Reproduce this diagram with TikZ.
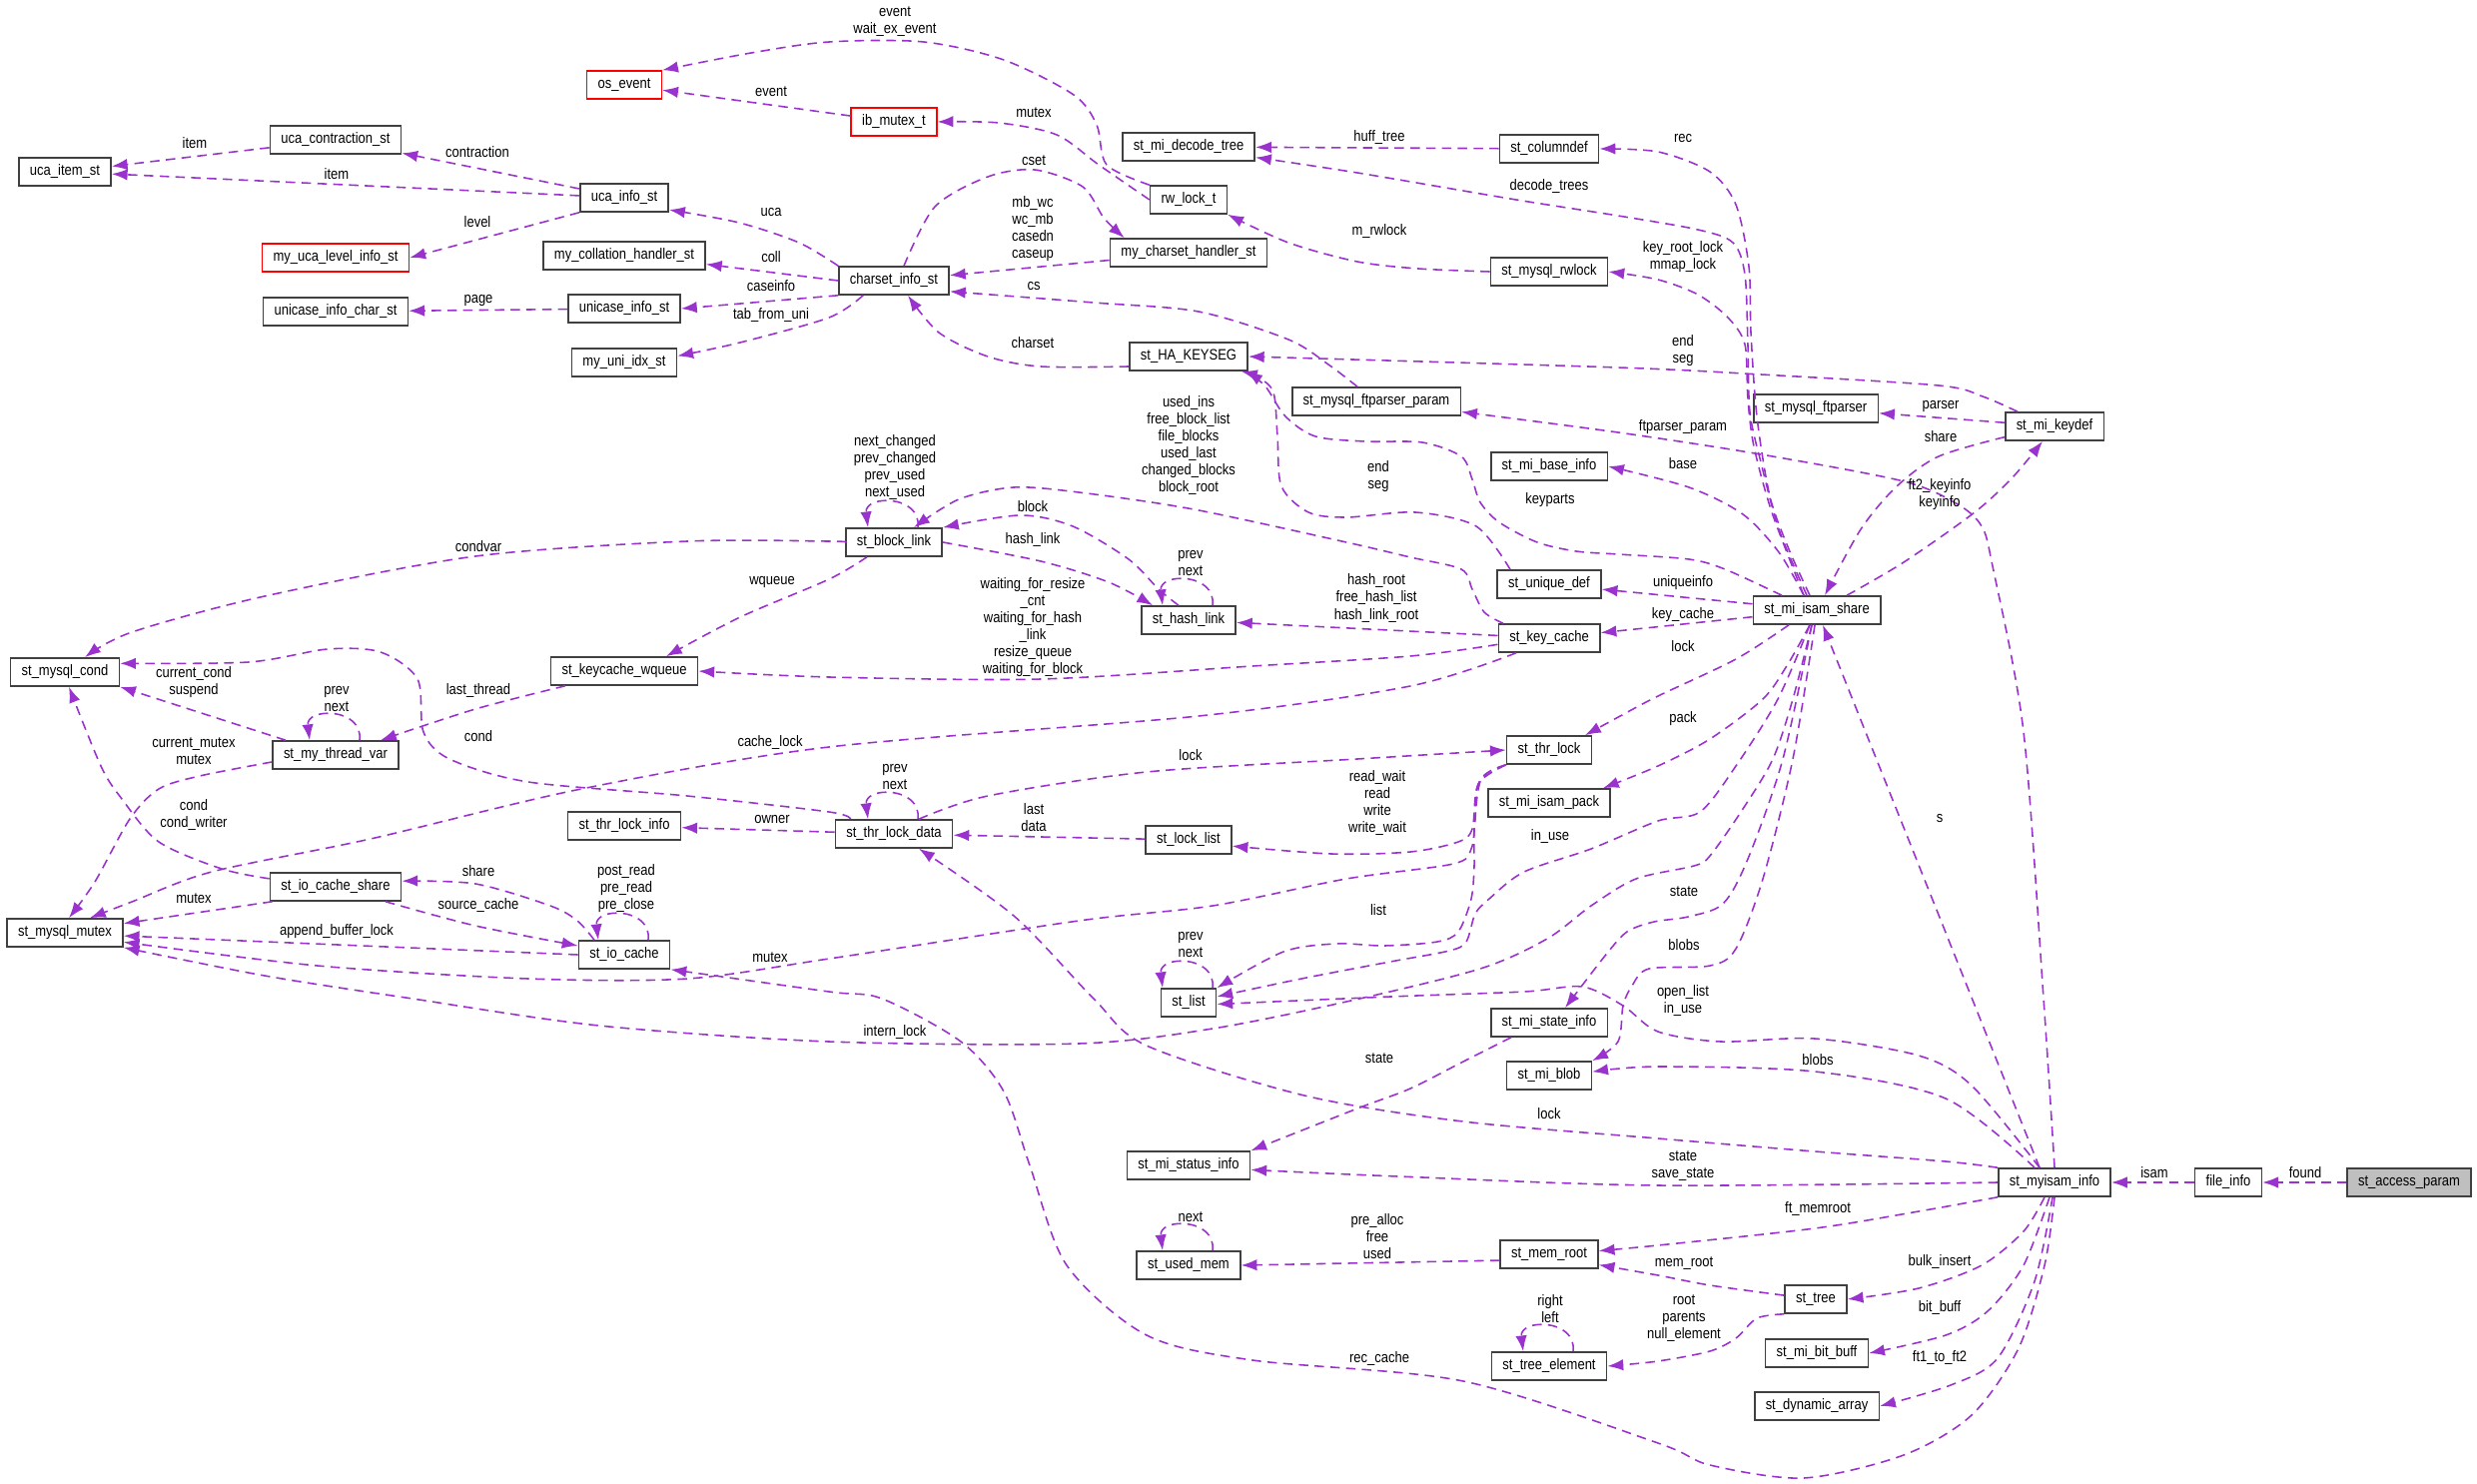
\documentclass[tikz,border=0pt]{standalone}
\usepackage{fontspec}
\setmainfont{Liberation Sans}[FakeStretch=0.86]
\usepackage{tikz}
\usetikzlibrary{arrows.meta}
\definecolor{linkviolet}{RGB}{154,50,205}
\definecolor{rootgrey}{RGB}{191,191,191}

% self reference drawn as a small loop over the box
\newcommand{\selfref}[1]{\draw[dep] ([shift={(24,0)}]#1.north) .. controls +(4,-33) and +(-4,-33) .. ([shift={(-26,0)}]#1.north);}

\begin{document}
\begin{tikzpicture}[
	x=0.02cm, y=-0.02cm,
	font=\fontsize{8.6}{9.7}\selectfont,
	cls/.style={rectangle, draw=black!75, line width=0.9pt, fill=white, minimum height=0.56cm, inner xsep=0.22cm, inner ysep=0pt},
	clsred/.style={cls, draw=red},
	clsroot/.style={cls, fill=rootgrey},
	dep/.style={draw=linkviolet, line width=0.9pt, dash pattern=on 5.4pt off 3.6pt, -{Latex[length=9pt,width=6.5pt]}},
	lbl/.style={inner sep=0pt, align=center},
]
\useasboundingbox (0,0) rectangle (2480,1486);

% classes
\node[clsred] (osevent) at (625,85) {os\_event};
\node[cls] (ucacontraction) at (336,140) {uca\_contraction\_st};
\node[cls] (ucaitem) at (65,172) {uca\_item\_st};
\node[cls] (ucainfo) at (625,198) {uca\_info\_st};
\node[clsred] (ucalevel) at (336,258) {my\_uca\_level\_info\_st};
\node[cls] (collhandler) at (625,256) {my\_collation\_handler\_st};
\node[cls] (unicasechar) at (336,312) {unicase\_info\_char\_st};
\node[cls] (unicaseinfo) at (625,309) {unicase\_info\_st};
\node[cls] (uniidx) at (625,363) {my\_uni\_idx\_st};
\node[clsred] (ibmutex) at (895,122) {ib\_mutex\_t};
\node[cls] (charsetinfo) at (895,281) {charset\_info\_st};
\node[cls] (decodetree) at (1190,147) {st\_mi\_decode\_tree};
\node[cls] (rwlock) at (1190,200) {rw\_lock\_t};
\node[cls] (cshandler) at (1190,253) {my\_charset\_handler\_st};
\node[cls] (hakeyseg) at (1190,357) {st\_HA\_KEYSEG};
\node[cls] (ftparam) at (1378,402) {st\_mysql\_ftparser\_param};
\node[cls] (columndef) at (1551,149) {st\_columndef};
\node[cls] (mysqlrwlock) at (1551,272) {st\_mysql\_rwlock};
\node[cls] (baseinfo) at (1551,467) {st\_mi\_base\_info};
\node[cls] (ftparser) at (1818,409) {st\_mysql\_ftparser};
\node[cls] (keydef) at (2057,427) {st\_mi\_keydef};
\node[cls] (mysqlcond) at (65,673) {st\_mysql\_cond};
\node[cls] (wqueue) at (625,672) {st\_keycache\_wqueue};
\node[cls] (threadvar) at (336,756) {st\_my\_thread\_var};
\node[cls] (thrlockinfo) at (625,827) {st\_thr\_lock\_info};
\node[cls] (iocacheshare) at (336,888) {st\_io\_cache\_share};
\node[cls] (mysqlmutex) at (65,934) {st\_mysql\_mutex};
\node[cls] (iocache) at (625,956) {st\_io\_cache};
\node[cls] (blocklink) at (895,543) {st\_block\_link};
\node[cls] (hashlink) at (1190,621) {st\_hash\_link};
\node[cls] (uniquedef) at (1551,585) {st\_unique\_def};
\node[cls] (keycache) at (1551,639) {st\_key\_cache};
\node[cls] (thrlock) at (1551,751) {st\_thr\_lock};
\node[cls] (isampack) at (1551,804) {st\_mi\_isam\_pack};
\node[cls] (thrlockdata) at (895,835) {st\_thr\_lock\_data};
\node[cls] (locklist) at (1190,841) {st\_lock\_list};
\node[cls] (stlist) at (1190,1004) {st\_list};
\node[cls] (stateinfo) at (1551,1024) {st\_mi\_state\_info};
\node[cls] (miblob) at (1551,1077) {st\_mi\_blob};
\node[cls] (statusinfo) at (1190,1167) {st\_mi\_status\_info};
\node[cls] (usedmem) at (1190,1267) {st\_used\_mem};
\node[cls] (memroot) at (1551,1256) {st\_mem\_root};
\node[cls] (treeelement) at (1551,1368) {st\_tree\_element};
\node[cls] (isamshare) at (1819,611) {st\_mi\_isam\_share};
\node[cls] (sttree) at (1818,1301) {st\_tree};
\node[cls] (bitbuff) at (1819,1355) {st\_mi\_bit\_buff};
\node[cls] (dynarray) at (1819,1408) {st\_dynamic\_array};
\node[cls] (myisaminfo) at (2057,1184) {st\_myisam\_info};
\node[cls] (fileinfo) at (2231,1184) {file\_info};
\node[clsroot] (accessparam) at (2412,1184) {st\_access\_param};

% charset part
\draw[dep] (ucacontraction) -- (ucaitem);
\draw[dep] (ucainfo) -- (ucaitem);
\draw[dep] (ucainfo) -- (ucacontraction);
\draw[dep] (ucainfo.south west) -- (ucalevel.east);
\draw[dep] plot[smooth] coordinates {(charsetinfo.north west) (800,243) (740,223) (ucainfo.-15)};
\draw[dep] (charsetinfo.west) -- (collhandler.-6);
\draw[dep] (charsetinfo.south west) -- (unicaseinfo.east);
\draw[dep] plot[smooth] coordinates {([shift={(25,0)}]charsetinfo.south west) (830,318) (741,343) (uniidx.7)};
\draw[dep] (unicaseinfo) -- (unicasechar);
\draw[dep] plot[smooth] coordinates {([shift={(10,0)}]charsetinfo.north) (936,207) (989,177) (1036,170) (1084,187) (1105,218) ([shift={(15,0)}]cshandler.north west)};
\draw[dep] (cshandler) -- (charsetinfo);
\draw[dep] plot[smooth] coordinates {([shift={(-19,0)}]ftparam.north) (1330,365) (1290,340) (1200,312) (1095,303) (charsetinfo.-11)};
\draw[dep] plot[smooth] coordinates {([shift={(0,10)}]hakeyseg.west) (1042,367) (989,357) (940,333) ([shift={(14,0)}]charsetinfo.south)};

% locks and events
\draw[dep] plot[smooth] coordinates {(rwlock.north west) (1108,165) (1098,125) (1075,95) (1005,60) (925,42) (830,42) (752,53) (osevent.north east)};
\draw[dep] (ibmutex) -- (osevent);
\draw[dep] plot[smooth] coordinates {(rwlock.west) (1100,165) (1058,135) (1000,123) (ibmutex.east)};
\draw[dep] plot[smooth] coordinates {(mysqlrwlock.west) (1420,269) (1359,262) (1290,243) (rwlock.south east)};

% share, keydef, keyseg
\draw[dep] (columndef) -- (decodetree);
\draw[dep] plot[smooth] coordinates {([shift={(-10,0)}]isamshare.north) (1781,530) (1763,463) (1752,413) (1750,347) (1747,275) (1735,243) (1700,230) (1620,216) (1518,200) (1359,173) (decodetree.-9)};
\draw[dep] plot[smooth] coordinates {([shift={(-7,0)}]isamshare.north) (1791,550) (1772,497) (1759,417) (1753,333) (1751,267) (1738,205) (1712,172) (1660,152) (columndef.east)};
\draw[dep] plot[smooth] coordinates {([shift={(-13,0)}]isamshare.north) (1774,513) (1756,447) (1750,400) (1747,345) (1730,318) (1700,295) (1660,280) (mysqlrwlock.east)};
\draw[dep] plot[smooth] coordinates {([shift={(-37,0)}]keydef.north) (1985,397) (1941,386) (1763,375) (1620,368) (hakeyseg.east)};
\draw[dep] plot[smooth] coordinates {([shift={(-39,0)}]uniquedef.north) (1478,527) (1417,513) (1348,518) (1310,513) (1283,487) (1279,437) (1275,393) (1260,378) ([shift={(53,0)}]hakeyseg.south)};
\draw[dep] plot[smooth] coordinates {([shift={(-35,0)}]isamshare.north) (1727,570) (1691,560) (1620,555) (1578,552) (1539,543) (1501,523) (1482,503) (1474,480) (1463,457) (1424,443) (1367,442) (1317,437) (1287,417) (1267,387) ([shift={(58,0)}]hakeyseg.south)};
\draw[dep] plot[smooth] coordinates {(myisaminfo.north) (2046,1000) (2026,733) (1995,567) (1984,527) (1960,505) (1906,482) (1763,455) (1620,433) (ftparam.-7)};
\draw[dep] (keydef) -- (ftparser);
\draw[dep] plot[smooth] coordinates {(keydef.-168) (1941,457) (1899,487) (1863,530) ([shift={(8,0)}]isamshare.north)};
\draw[dep] plot[smooth] coordinates {([shift={(30,0)}]isamshare.north) (1906,563) (1977,513) (2015,478) ([shift={(-12,0)}]keydef.south)};
\draw[dep] plot[smooth] coordinates {([shift={(-13,0)}]isamshare.north) (1781,553) (1745,515) (1691,488) (baseinfo.east)};
\draw[dep] (isamshare) -- (uniquedef);
\draw[dep] (isamshare) -- (keycache);

% key cache
\draw[dep] (keycache) -- (hashlink);
\draw[dep] plot[smooth] coordinates {([shift={(-46,0)}]keycache.north) (1486,613) (1474,590) (1463,570) (1412,558) (1348,543) (1195,510) (1080,493) (1015,488) (960,500) ([shift={(20,0)}]blocklink.north)};
\selfref{blocklink}
\draw[dep] plot[smooth] coordinates {(blocklink.east) (1042,562) (1110,583) ([shift={(12,0)}]hashlink.north west)};
\draw[dep] plot[smooth] coordinates {([shift={(-10,0)}]hashlink.north) (1160,590) (1130,560) (1074,527) (1021,516) (blocklink.north east)};
\selfref{hashlink}
\draw[dep] plot[smooth] coordinates {(blocklink.west) (830,542) (688,542) (476,557) (265,597) (132,633) ([shift={(20,0)}]mysqlcond.north)};
\draw[dep] plot[smooth] coordinates {([shift={(-27,0)}]blocklink.south) (830,580) (741,618) ([shift={(42,0)}]wqueue.north)};
\draw[dep] plot[smooth] coordinates {(keycache.-173) (1412,657) (1254,667) (1042,680) (830,678) (wqueue.east)};
\draw[dep] plot[smooth] coordinates {([shift={(-33,0)}]keycache.south) (1412,687) (1200,717) (830,748) (582,790) (371,840) (212,873) (132,903) ([shift={(25,0)}]mysqlmutex.north)};

% threads and io cache
\draw[dep] plot[smooth] coordinates {([shift={(-59,0)}]wqueue.south) (476,710) ([shift={(45,0)}]threadvar.north)};
\draw[dep] ([shift={(-50,0)}]threadvar.north) -- (mysqlcond.south east);
\selfref{threadvar}
\draw[dep] plot[smooth] coordinates {([shift={(0,7)}]threadvar.west) (200,777) (159,790) (130,820) (95,883) ([shift={(4,0)}]mysqlmutex.north)};
\draw[dep] plot[smooth] coordinates {([shift={(16,0)}]thrlockdata.north west) (830,813) (688,797) (529,783) (450,760) (424,733) (418,680) (381,653) (328,650) (249,663) (mysqlcond.9)};
\draw[dep] plot[smooth] coordinates {(iocacheshare.173) (222,870) (159,843) (122,800) (101,767) ([shift={(4,0)}]mysqlcond.south)};
\draw[dep] ([shift={(3,0)}]iocacheshare.south west) -- (mysqlmutex.9);
\draw[dep] plot[smooth] coordinates {([shift={(-30,0)}]iocache.north) (578,922) (551,907) (476,885) (iocacheshare.5)};
\draw[dep] plot[smooth] coordinates {([shift={(50,0)}]iocacheshare.south) (476,927) (iocache.169)};
\selfref{iocache}
\draw[dep] (iocache.west) -- (mysqlmutex.-3);
\draw[dep] plot[smooth] coordinates {(thrlock.south west) (1481,783) (1477,820) (1473,850) (1455,865) (1348,880) (1214,907) (1080,922) (830,960) (688,980) (529,980) (318,967) (mysqlmutex.-9)};
\draw[dep] plot[smooth] coordinates {([shift={(-5,0)}]isamshare.south) (1795,700) (1775,760) (1745,810) (1712,857) (1696,867) (1638,880) (1593,907) (1549,940) (1482,970) (1348,1003) (1214,1030) (1080,1045) (830,1043) (600,1027) (413,1000) (265,977) (mysqlmutex.south east)};

% thr lock
\selfref{thrlockdata}
\draw[dep] plot[smooth] coordinates {([shift={(25,0)}]thrlockdata.north) (989,797) (1148,773) (1359,760) (thrlock.west)};
\draw[dep] (thrlockdata) -- (thrlockinfo);
\draw[dep] (locklist) -- (thrlockdata);
\draw[dep] plot[smooth] coordinates {(thrlock.south west) (1480,785) (1474,830) (1460,843) (1412,853) (1333,855) (locklist.-8)};
\draw[dep] plot[smooth] coordinates {([shift={(-28,0)}]isamshare.south) (1738,660) (1660,697) (1624,716) ([shift={(36,0)}]thrlock.north)};
\draw[dep] plot[smooth] coordinates {([shift={(-7,0)}]isamshare.south) (1790,665) (1765,700) (1712,740) (1660,767) ([shift={(-8,0)}]isampack.north east)};
\draw[dep] plot[smooth] coordinates {(thrlock.south west) (1483,780) (1476,830) (1476,867) (1473,900) (1460,933) (1439,943) (1386,947) (1338,945) (1285,953) (stlist.north east)};
\selfref{stlist}
\draw[dep] plot[smooth] coordinates {([shift={(-7,0)}]isamshare.south) (1780,700) (1738,767) (1702,813) (1660,822) (1593,850) (1526,873) (1491,900) (1477,915) (1468,943) (1451,952) (1392,963) (1303,980) (stlist.12)};
\draw[dep] plot[smooth] coordinates {([shift={(-15,0)}]myisaminfo.north) (1974,1087) (1921,1057) (1817,1040) (1723,1043) (1660,1033) (1625,1007) (1584,988) (1526,993) (1392,998) (stlist.-3)};
\draw[dep] plot[smooth] coordinates {([shift={(-5,0)}]isamshare.south) (1785,760) (1750,860) (1725,905) (1690,918) (1656,923) (1629,933) (1607,957) ([shift={(16,0)}]stateinfo.north)};
\draw[dep] plot[smooth] coordinates {([shift={(-2,0)}]isamshare.south) (1795,760) (1765,880) (1738,950) (1712,967) (1651,970) (1634,987) (1625,1007) (1620,1043) (miblob.north east)};

% myisam info
\draw[dep] ([shift={(-15,0)}]myisaminfo.north) -- ([shift={(6,0)}]isamshare.south);
\draw[dep] plot[smooth] coordinates {([shift={(-20,0)}]myisaminfo.north) (1948,1100) (1817,1073) (1660,1068) (miblob.5)};
\draw[dep] plot[smooth] coordinates {(myisaminfo.north west) (1948,1163) (1817,1153) (1660,1140) (1465,1123) (1306,1097) (1148,1047) (1095,1000) (1015,917) ([shift={(25,0)}]thrlockdata.south)};
\draw[dep] plot[smooth] coordinates {([shift={(-38,0)}]stateinfo.south) (1465,1063) (1412,1090) (1359,1110) (statusinfo.north east)};
\draw[dep] plot[smooth] coordinates {(myisaminfo.west) (1660,1187) (1400,1178) (statusinfo.-4)};
\draw[dep] plot[smooth] coordinates {(myisaminfo.south west) (1921,1213) (1817,1230) (1660,1247) (memroot.4)};
\draw[dep] (memroot.-173) -- (usedmem.east);
\selfref{usedmem}
\draw[dep] plot[smooth] coordinates {(sttree.173) (1712,1287) (1660,1277) (memroot.-12)};
\draw[dep] plot[smooth] coordinates {(sttree.south west) (1759,1320) (1738,1340) (1712,1353) (1660,1363) (treeelement.east)};
\selfref{treeelement}
\draw[dep] plot[smooth] coordinates {([shift={(-10,0)}]myisaminfo.south) (2026,1233) (1984,1267) (1921,1290) (sttree.east)};
\draw[dep] plot[smooth] coordinates {([shift={(-5,0)}]myisaminfo.south) (2026,1267) (1990,1313) (1948,1337) (bitbuff.east)};
\draw[dep] plot[smooth] coordinates {([shift={(-2,0)}]myisaminfo.south) (2037,1283) (2000,1360) (1953,1387) (dynarray.east)};
\draw[dep] plot[smooth] coordinates {(myisaminfo.south) (2047,1267) (2021,1350) (1974,1417) (1906,1457) (1806,1480) (1712,1467) (1660,1445) (1465,1383) (1254,1362) (1148,1337) (1068,1267) (1031,1167) (1005,1093) (962,1043) (883,1000) (830,993) (iocache.south east)};
\draw[dep] (fileinfo) -- (myisaminfo);
\draw[dep] (accessparam) -- (fileinfo);

% member names
\node[lbl] (litem1) at (195,143) {item};
\node[lbl] (litem2) at (337,174) {item};
\node[lbl] (lcontraction) at (478,152) {contraction};
\node[lbl] (llevel) at (478,222) {level};
\node[lbl] (luca) at (772,213) {uca};
\node[lbl] (lcoll) at (772,257) {coll};
\node[lbl] (lcaseinfo) at (772,286) {caseinfo};
\node[lbl] (ltabfromuni) at (772,316) {tab\_from\_uni};
\node[lbl] (lpage) at (479,301) {page};
\node[lbl] (levent) at (772,92) {event};
\node[lbl] (leventwait) at (896,22) {event\\wait\_ex\_event};
\node[lbl] (lmutex1) at (1035,113) {mutex};
\node[lbl] (lcset) at (1035,161) {cset};
\node[lbl] (lmbwc) at (1034,229) {mb\_wc\\wc\_mb\\casedn\\caseup};
\node[lbl] (lcs) at (1035,287) {cs};
\node[lbl] (lcharset) at (1034,343) {charset};
\node[lbl] (lhufftree) at (1381,138) {huff\_tree};
\node[lbl] (ldecodetrees) at (1551,187) {decode\_trees};
\node[lbl] (lmrwlock) at (1381,232) {m\_rwlock};
\node[lbl] (lrec) at (1685,139) {rec};
\node[lbl] (lkeyroot) at (1685,257) {key\_root\_lock\\mmap\_lock};
\node[lbl] (lendseg1) at (1685,351) {end\\seg};
\node[lbl] (lendseg2) at (1380,477) {end\\seg};
\node[lbl] (lkeyparts) at (1552,501) {keyparts};
\node[lbl] (lftparserparam) at (1685,428) {ftparser\_param};
\node[lbl] (lbase) at (1685,464) {base};
\node[lbl] (lparser) at (1943,407) {parser};
\node[lbl] (lshare1) at (1943,437) {share};
\node[lbl] (lkeyinfo) at (1942,495) {ft2\_keyinfo\\keyinfo};
\node[lbl] (luniqueinfo) at (1685,584) {uniqueinfo};
\node[lbl] (lkeycache) at (1685,616) {key\_cache};
\node[lbl] (llock1) at (1685,647) {lock};
\node[lbl] (lpack) at (1685,720) {pack};
\node[lbl] (linuse) at (1552,838) {in\_use};
\node[lbl] (lstate1) at (1686,893) {state};
\node[lbl] (lblobs1) at (1686,946) {blobs};
\node[lbl] (lopenlist) at (1685,1002) {open\_list\\in\_use};
\node[lbl] (ls) at (1942,820) {s};
\node[lbl] (llist) at (1380,911) {list};
\node[lbl] (lreadwait) at (1379,804) {read\_wait\\read\\write\\write\_wait};
\node[lbl] (llastdata) at (1035,819) {last\\data};
\node[lbl] (llock2) at (1192,756) {lock};
\node[lbl] (lprevnext1) at (896,778) {prev\\next};
\node[lbl] (lowner) at (773,821) {owner};
\node[lbl] (lusedins) at (1190,446) {used\_ins\\free\_block\_list\\file\_blocks\\used\_last\\changed\_blocks\\block\_root};
\node[lbl] (lblock) at (1034,507) {block};
\node[lbl] (lhashlink) at (1034,541) {hash\_link};
\node[lbl] (lprevnext2) at (1192,564) {prev\\next};
\node[lbl] (lchanged) at (896,468) {next\_changed\\prev\_changed\\prev\_used\\next\_used};
\node[lbl] (lhashroot) at (1378,599) {hash\_root\\free\_hash\_list\\hash\_link\_root};
\node[lbl] (lwaiting) at (1034,628) {waiting\_for\_resize\\\_cnt\\waiting\_for\_hash\\\_link\\resize\_queue\\waiting\_for\_block};
\node[lbl] (lcondvar) at (479,547) {condvar};
\node[lbl] (lwqueue) at (773,583) {wqueue};
\node[lbl] (llastthread) at (479,692) {last\_thread};
\node[lbl] (lcurrentcond) at (194,683) {current\_cond\\suspend};
\node[lbl] (lprevnext3) at (337,700) {prev\\next};
\node[lbl] (lcond) at (479,737) {cond};
\node[lbl] (lcachelock) at (771,744) {cache\_lock};
\node[lbl] (lcurrentmutex) at (194,752) {current\_mutex\\mutex};
\node[lbl] (lcondwriter) at (194,816) {cond\\cond\_writer};
\node[lbl] (lshare2) at (479,872) {share};
\node[lbl] (lmutex2) at (194,900) {mutex};
\node[lbl] (lsourcecache) at (479,907) {source\_cache};
\node[lbl] (lpostread) at (627,890) {post\_read\\pre\_read\\pre\_close};
\node[lbl] (lappend) at (337,933) {append\_buffer\_lock};
\node[lbl] (lmutex3) at (771,959) {mutex};
\node[lbl] (linternlock) at (896,1034) {intern\_lock};
\node[lbl] (lprevnext4) at (1192,946) {prev\\next};
\node[lbl] (llock3) at (1551,1115) {lock};
\node[lbl] (lstate2) at (1381,1060) {state};
\node[lbl] (lstatesave) at (1685,1168) {state\\save\_state};
\node[lbl] (lblobs2) at (1820,1061) {blobs};
\node[lbl] (lftmemroot) at (1820,1211) {ft\_memroot};
\node[lbl] (lmemroot) at (1686,1265) {mem\_root};
\node[lbl] (lroot) at (1686,1320) {root\\parents\\null\_element};
\node[lbl] (lprealloc) at (1379,1238) {pre\_alloc\\free\\used};
\node[lbl] (lnext) at (1192,1219) {next};
\node[lbl] (lrightleft) at (1552,1311) {right\\left};
\node[lbl] (lreccache) at (1381,1361) {rec\_cache};
\node[lbl] (lbulkinsert) at (1942,1264) {bulk\_insert};
\node[lbl] (lbitbuff) at (1942,1310) {bit\_buff};
\node[lbl] (lft1) at (1942,1360) {ft1\_to\_ft2};
\node[lbl] (lisam) at (2157,1174) {isam};
\node[lbl] (lfound) at (2308,1174) {found};
\end{tikzpicture}
\end{document}
